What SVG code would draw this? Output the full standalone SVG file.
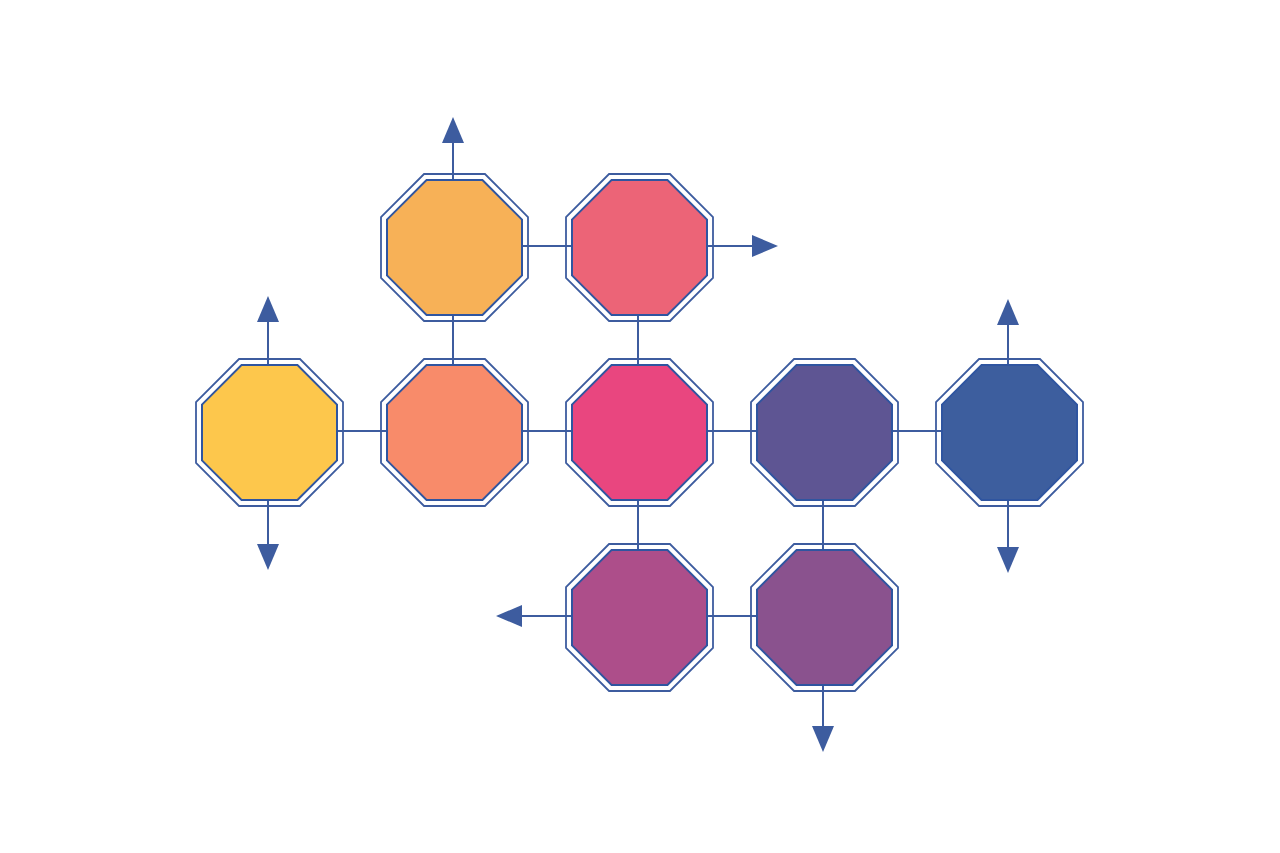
<svg xmlns="http://www.w3.org/2000/svg" xmlns:xlink="http://www.w3.org/1999/xlink" width="1280" height="853" viewBox="0 0 1280 853">
<style>
.ln{stroke:#3D5C9F;stroke-width:2;fill:none}
.o{fill:none;stroke:#3D5C9F;stroke-width:1.8}
.i{stroke:#2F55A0;stroke-width:2}
</style>
<defs>
<polygon id="po" points="-30.45,-73.5 30.45,-73.5 73.5,-30.45 73.5,30.45 30.45,73.5 -30.45,73.5 -73.5,30.45 -73.5,-30.45"/>
<polygon id="pi" points="-27.96,-67.5 27.96,-67.5 67.5,-27.96 67.5,27.96 27.96,67.5 -27.96,67.5 -67.5,27.96 -67.5,-27.96"/>
<marker id="ar" viewBox="0 0 26 22" refX="0" refY="11" markerWidth="26" markerHeight="22" markerUnits="userSpaceOnUse" orient="auto">
<path d="M0,0 L26,11 L0,22 Z" fill="#3D5C9F"/>
</marker>
</defs>
<rect width="1280" height="853" fill="#FFFFFF"/>
<g id="connectors">
<line class="ln" x1="453" y1="246" x2="638" y2="246"/>
<line class="ln" x1="268" y1="431" x2="1008" y2="431"/>
<line class="ln" x1="638" y1="616" x2="823" y2="616"/>
<line class="ln" x1="453" y1="246" x2="453" y2="431"/>
<line class="ln" x1="638" y1="246" x2="638" y2="616"/>
<line class="ln" x1="823" y1="431" x2="823" y2="616"/>
<line class="ln" x1="453" y1="246" x2="453" y2="143" marker-end="url(#ar)"/>
<line class="ln" x1="638" y1="246" x2="752" y2="246" marker-end="url(#ar)"/>
<line class="ln" x1="268" y1="431" x2="268" y2="322" marker-end="url(#ar)"/>
<line class="ln" x1="268" y1="431" x2="268" y2="544" marker-end="url(#ar)"/>
<line class="ln" x1="1008" y1="431" x2="1008" y2="325" marker-end="url(#ar)"/>
<line class="ln" x1="1008" y1="431" x2="1008" y2="547" marker-end="url(#ar)"/>
<line class="ln" x1="638" y1="616" x2="522" y2="616" marker-end="url(#ar)"/>
<line class="ln" x1="823" y1="616" x2="823" y2="726" marker-end="url(#ar)"/>
</g>
<g id="n-orange" transform="translate(454.5,247.5)"><use xlink:href="#po" class="o"/><use xlink:href="#pi" class="i" fill="#F7B157"/></g>
<g id="n-coral" transform="translate(639.5,247.5)"><use xlink:href="#po" class="o"/><use xlink:href="#pi" class="i" fill="#EC6477"/></g>
<g id="n-yellow" transform="translate(269.5,432.5)"><use xlink:href="#po" class="o"/><use xlink:href="#pi" class="i" fill="#FDC74C"/></g>
<g id="n-salmon" transform="translate(454.5,432.5)"><use xlink:href="#po" class="o"/><use xlink:href="#pi" class="i" fill="#F88B6A"/></g>
<g id="n-pink" transform="translate(639.5,432.5)"><use xlink:href="#po" class="o"/><use xlink:href="#pi" class="i" fill="#E9467F"/></g>
<g id="n-indigo" transform="translate(824.5,432.5)"><use xlink:href="#po" class="o"/><use xlink:href="#pi" class="i" fill="#5E5593"/></g>
<g id="n-blue" transform="translate(1009.5,432.5)"><use xlink:href="#po" class="o"/><use xlink:href="#pi" class="i" fill="#3D5E9E"/></g>
<g id="n-magenta" transform="translate(639.5,617.5)"><use xlink:href="#po" class="o"/><use xlink:href="#pi" class="i" fill="#AD4E8A"/></g>
<g id="n-purple" transform="translate(824.5,617.5)"><use xlink:href="#po" class="o"/><use xlink:href="#pi" class="i" fill="#8A528E"/></g>
</svg>
